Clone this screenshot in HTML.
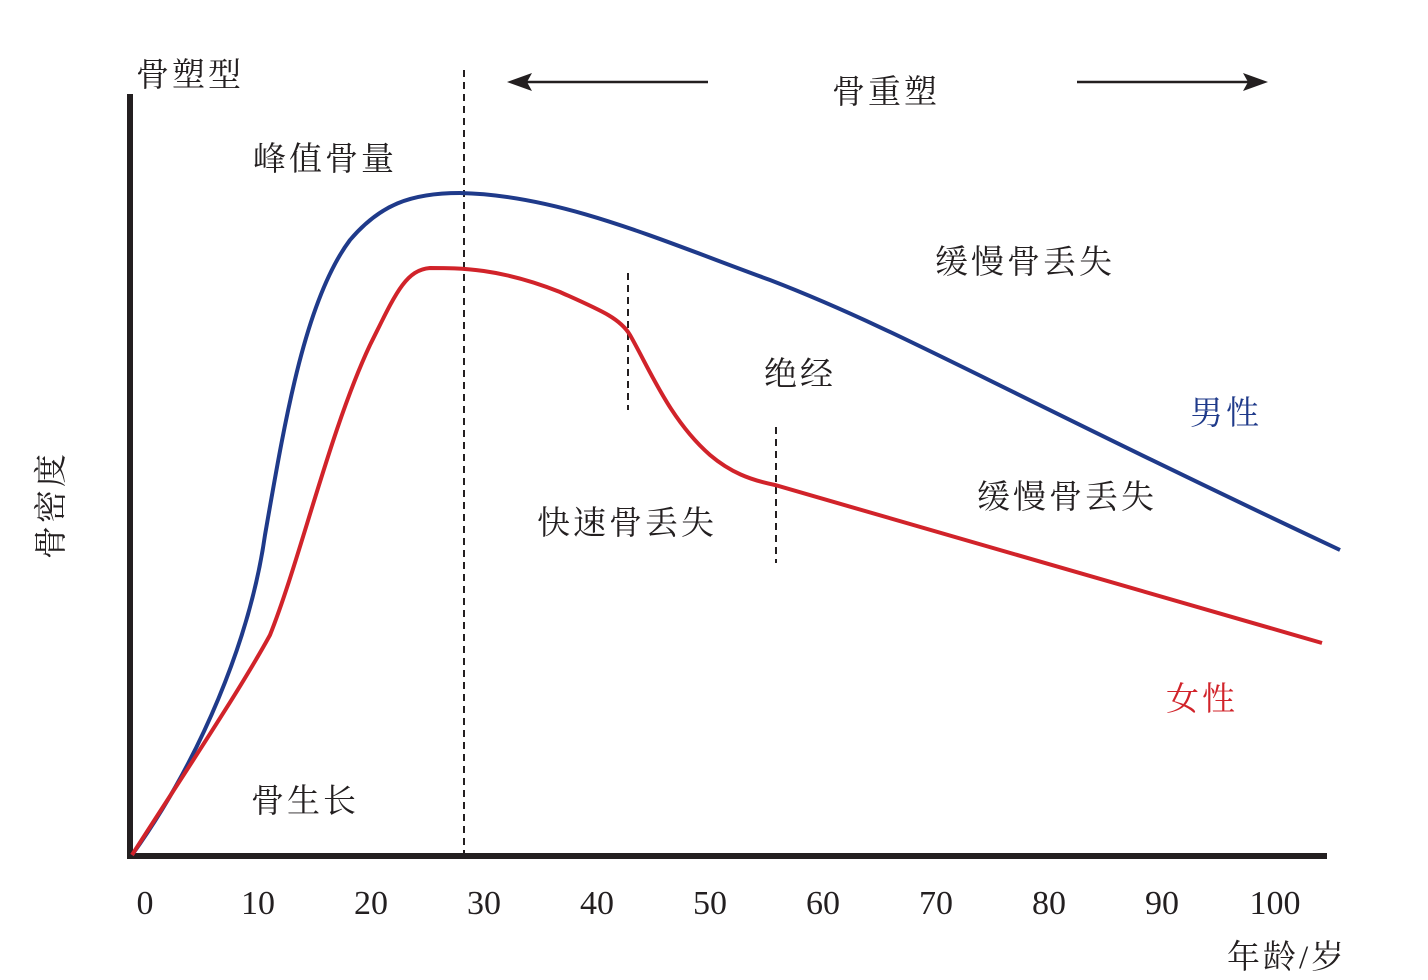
<!DOCTYPE html>
<html><head><meta charset="utf-8"><style>
html,body{margin:0;padding:0;background:#fff;}
svg{display:block}
.t{font-family:"Liberation Serif","Noto Serif CJK SC",serif;font-size:33px;fill:#231f20;letter-spacing:3px}
.n{font-family:"Liberation Serif",serif;font-size:34px;fill:#231f20}
</style></head><body>
<svg width="1428" height="980" viewBox="0 0 1428 980" xmlns="http://www.w3.org/2000/svg">
<rect width="1428" height="980" fill="#fff"/>
<line x1="130" y1="94" x2="130" y2="859" stroke="#231f20" stroke-width="6"/>
<line x1="127" y1="856" x2="1327" y2="856" stroke="#231f20" stroke-width="6"/>
<g stroke="#231f20" stroke-width="2" stroke-dasharray="7,5">
<line x1="464" y1="70" x2="464" y2="853"/>
<line x1="628" y1="273" x2="628" y2="410"/>
<line x1="776" y1="427" x2="776" y2="563"/>
</g>
<path d="M132,855 C200,760 250,640 265,535 C285,420 305,300 350,240 C380,205 410,193 460,193 C560,195 660,240 770,280 C900,330 1000,390 1340,550" fill="none" stroke="#1f3a8a" stroke-width="4"/>
<path d="M132,855 C180,780 240,690 270,635 C300,560 330,430 370,345 C395,295 405,270 430,268 C460,268 500,268 560,292 C600,310 620,318 630,335 C650,370 670,420 710,455 C730,472 750,480 775,485 L1322,643" fill="none" stroke="#d1232a" stroke-width="4"/>
<g stroke="#231f20" stroke-width="2.5">
<line x1="520" y1="82" x2="708" y2="82"/>
<line x1="1077" y1="82" x2="1255" y2="82"/>
</g>
<path d="M507,82 L532,73 L527,82 L532,91 Z" fill="#231f20"/>
<path d="M1268,82 L1243,73 L1248,82 L1243,91 Z" fill="#231f20"/>
<text class="t" x="136" y="86">骨塑型</text>
<text class="t" x="832" y="103">骨重塑</text>
<text class="t" x="253" y="170">峰值骨量</text>
<text class="t" x="935" y="273">缓慢骨丢失</text>
<text class="t" x="764" y="385">绝经</text>
<text class="t" x="1190" y="424" style="fill:#1f3a8a">男性</text>
<text class="t" x="977" y="508">缓慢骨丢失</text>
<text class="t" x="537" y="534">快速骨丢失</text>
<text class="t" x="1166" y="710" style="fill:#d1232a">女性</text>
<text class="t" x="251" y="812">骨生长</text>
<text class="t" x="1227" y="968">年龄/岁</text>
<text class="t" transform="translate(62,505) rotate(-90)" text-anchor="middle">骨密度</text>
<g class="n" text-anchor="middle">
<text x="145" y="914">0</text><text x="258" y="914">10</text><text x="371" y="914">20</text>
<text x="484" y="914">30</text><text x="597" y="914">40</text><text x="710" y="914">50</text>
<text x="823" y="914">60</text><text x="936" y="914">70</text><text x="1049" y="914">80</text>
<text x="1162" y="914">90</text><text x="1275" y="914">100</text>
</g>
</svg>
</body></html>
